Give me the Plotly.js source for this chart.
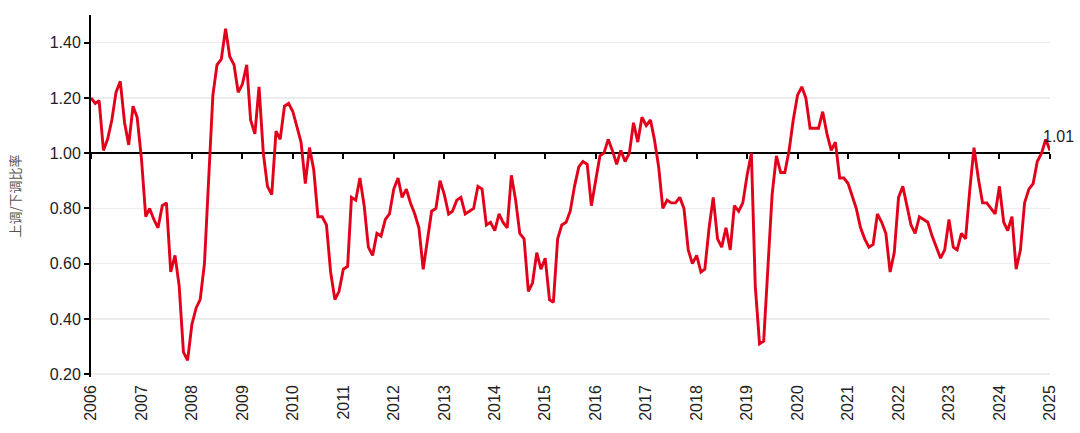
<!DOCTYPE html>
<html>
<head>
<meta charset="utf-8">
<script src="https://cdn.plot.ly/plotly-3.0.1.min.js"></script>
<style>html,body{margin:0;padding:0;background:#fff;}#chart{width:1080px;height:433px;}</style>
</head>
<body>
<div id="chart"></div>
<script>
// Monthly upgrade/downgrade ratio, Jan 2006 .. Jan 2025
const startYear = 2006;
const ratio = [
  1.20,1.18,1.19,1.01,1.05,1.12,1.22,1.26,1.11,1.03,1.17,1.13,
  0.98,0.77,0.80,0.76,0.73,0.81,0.82,0.57,0.63,0.52,0.28,0.25,
  0.38,0.44,0.47,0.60,0.90,1.21,1.32,1.34,1.45,1.35,1.32,1.22,
  1.25,1.32,1.12,1.07,1.24,1.00,0.88,0.85,1.08,1.05,1.17,1.18,
  1.15,1.09,1.04,0.89,1.02,0.94,0.77,0.77,0.74,0.57,0.47,0.50,
  0.58,0.59,0.84,0.83,0.91,0.81,0.66,0.63,0.71,0.70,0.76,0.78,
  0.87,0.91,0.84,0.87,0.82,0.78,0.73,0.58,0.69,0.79,0.80,0.90,
  0.85,0.78,0.79,0.83,0.84,0.78,0.79,0.80,0.88,0.87,0.74,0.75,
  0.72,0.78,0.75,0.73,0.92,0.83,0.71,0.69,0.50,0.53,0.64,0.58,
  0.62,0.47,0.46,0.69,0.74,0.75,0.79,0.88,0.95,0.97,0.96,0.81,
  0.90,0.99,1.00,1.05,1.01,0.96,1.01,0.97,1.00,1.11,1.04,1.13,
  1.10,1.12,1.05,0.95,0.80,0.83,0.82,0.82,0.84,0.80,0.65,0.60,
  0.63,0.57,0.58,0.73,0.84,0.69,0.66,0.73,0.65,0.81,0.79,0.82,
  0.92,1.00,0.52,0.31,0.32,0.57,0.85,0.99,0.93,0.93,1.01,1.12,
  1.21,1.24,1.20,1.09,1.09,1.09,1.15,1.07,1.01,1.04,0.91,0.91,
  0.89,0.84,0.80,0.73,0.69,0.66,0.67,0.78,0.75,0.71,0.57,0.64,
  0.84,0.88,0.81,0.74,0.71,0.77,0.76,0.75,0.70,0.66,0.62,0.65,
  0.76,0.66,0.65,0.71,0.69,0.87,1.02,0.91,0.82,0.82,0.80,0.78,
  0.88,0.75,0.72,0.77,0.58,0.65,0.82,0.87,0.89,0.97,1.00,1.05,
  1.01
];
const yTicks = [0.2,0.4,0.6,0.8,1.0,1.2,1.4];
const yTitle = '上调/下调比率';
const lastLabel = '1.01';

const dates = ratio.map((_, i) => {
  const y = startYear + Math.floor(i / 12);
  const m = (i % 12) + 1;
  return y + '-' + String(m).padStart(2, '0') + '-01';
});

const red = '#e2001a';
const fontFam = 'Liberation Sans, Arial, sans-serif';

const traces = [
  {x: dates, y: ratio, type: 'scatter', mode: 'lines', xaxis: 'x2', yaxis: 'y',
   line: {color: red, width: 2.9}, hoverinfo: 'x+y', showlegend: false},
  {x: [dates[0]], y: [null], type: 'scatter', mode: 'lines', xaxis: 'x', yaxis: 'y',
   showlegend: false, hoverinfo: 'skip'}
];

const yMin = 0.19, yMax = 1.5;
const range = ['2006-01-01', '2025-01-01'];

const layout = {
  width: 1080, height: 433,
  margin: {l: 91, r: 30, t: 15, b: 56},
  paper_bgcolor: '#fff', plot_bgcolor: '#fff',
  font: {family: fontFam, size: 16, color: '#222'},
  showlegend: false,
  xaxis: {
    type: 'date', range: range, tick0: '2006-01-01', dtick: 'M12', tickformat: '%Y',
    tickangle: -90, showgrid: false, zeroline: false, showline: false, ticks: '',
    ticklabelstandoff: 4,
    tickfont: {size: 16, color: '#222'}
  },
  xaxis2: {
    type: 'date', range: range, overlaying: 'x', anchor: 'free',
    position: (1.0 - yMin) / (yMax - yMin),
    tick0: '2006-01-01', dtick: 'M12', showticklabels: false,
    showline: true, linecolor: '#000', linewidth: 2,
    ticks: 'outside', ticklen: 5, tickwidth: 2, tickcolor: '#000',
    showgrid: false, zeroline: false, layer: 'below traces'
  },
  yaxis: {
    range: [yMin, yMax], tickvals: yTicks, tickformat: '.2f',
    showline: true, linecolor: '#000', linewidth: 2,
    ticks: 'outside', ticklen: 5, tickwidth: 2, tickcolor: '#000',
    showgrid: true, gridcolor: '#ececec', gridwidth: 1.5, zeroline: false,
    tickfont: {size: 16, color: '#222'},
    title: {text: yTitle, font: {family: 'Noto Sans CJK SC, sans-serif', size: 13, color: '#555'}, standoff: 26}
  },
  annotations: [{
    x: dates[dates.length - 1], y: ratio[ratio.length - 1], xref: 'x2', yref: 'y',
    text: lastLabel, showarrow: false, xanchor: 'center', yanchor: 'bottom',
    xshift: 8, yshift: 3, font: {size: 16, color: '#222'}
  }]
};

Plotly.newPlot('chart', traces, layout, {displayModeBar: false, staticPlot: true});
</script>
</body>
</html>
